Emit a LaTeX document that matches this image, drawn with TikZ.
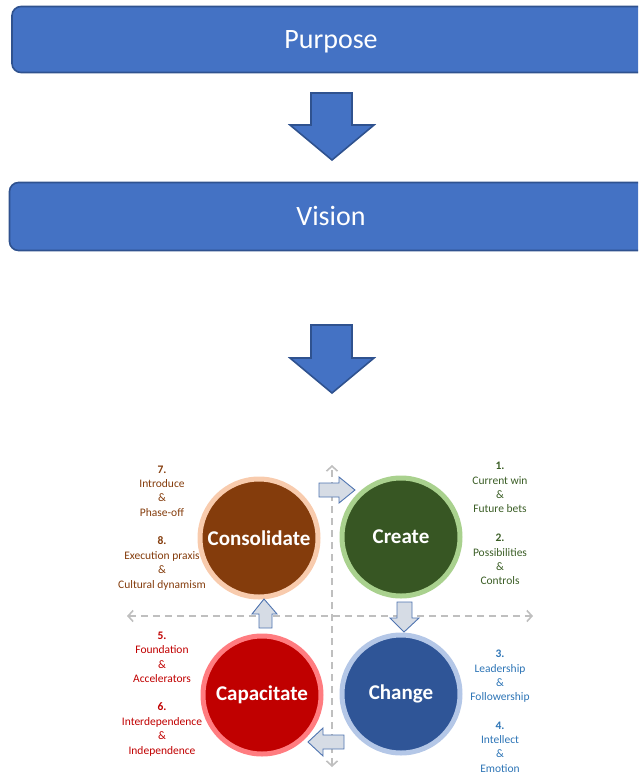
\documentclass[tikz,border=0pt]{standalone}
\usepackage{fontspec}
\setmainfont{Carlito}
\usetikzlibrary{arrows.meta}
\definecolor{boxblue}{HTML}{4472C4}
\definecolor{boxedge}{HTML}{2F528F}
\definecolor{axisgray}{HTML}{BFBFBF}
\definecolor{smallfill}{HTML}{D6DCE5}
\definecolor{smalledge}{HTML}{4F74B0}
\definecolor{conFill}{HTML}{843C0C}
\definecolor{conRing}{HTML}{F8CBAD}
\definecolor{creFill}{HTML}{375623}
\definecolor{creRing}{HTML}{A9D18E}
\definecolor{capFill}{HTML}{C00000}
\definecolor{capRing}{HTML}{FF7C80}
\definecolor{chaFill}{HTML}{2F5597}
\definecolor{chaRing}{HTML}{B4C7E7}
\definecolor{conText}{HTML}{843C0C}
\definecolor{creText}{HTML}{3B5E26}
\definecolor{capText}{HTML}{C00000}
\definecolor{chaText}{HTML}{2E75B6}
\tikzset{
  bigbox/.style={draw=boxedge, fill=boxblue, line width=1.6pt, rounded corners=9pt,
    text=white, font=\fontsize{28}{32}\selectfont, inner sep=0pt,
    text height=18pt, text depth=0pt},
  bigarrow/.style={draw=boxedge, fill=boxblue, line width=1.6pt, line join=miter},
  smallarrow/.style={draw=smalledge, fill=smallfill, line width=0.9pt, line join=miter},
  axisline/.style={draw=axisgray, line width=1.8pt, dash pattern=on 7pt off 5pt,
    {Straight Barb[length=5pt,width=11pt,line width=1.6pt]}-{Straight Barb[length=5pt,width=11pt,line width=1.6pt]}},
  phase/.style={circle, line width=5pt, minimum size=118pt, inner sep=0pt,
    text=white, font=\bfseries\fontsize{21}{25}\selectfont},
  lbl/.style={align=center, inner sep=0pt, font=\fontsize{11.5}{14.4}\selectfont}
}
\begin{document}
\begin{tikzpicture}[x=1pt,y=-1pt]
\useasboundingbox (0,0) rectangle (638,774);
\clip (0,0) rectangle (638,774);

% top boxes
\node[bigbox, minimum width=638pt, minimum height=66pt] (purpose) at (331,39.5) {Purpose};
\node[bigbox, minimum width=643pt, minimum height=68pt] (vision) at (331,216.5) {Vision};

% big down arrows
\draw[bigarrow] (311,93) -- (352,93) -- (352,125) -- (374,125) -- (332,160) -- (290,125) -- (311,125) -- cycle;
\draw[bigarrow] (311,325) -- (352,325) -- (352,358) -- (374,358) -- (332,393) -- (290,358) -- (311,358) -- cycle;

% axes
\coordinate (vtop) at (332,465);
\coordinate (vbot) at (332,767);
\coordinate (hleft) at (127,616);
\coordinate (hright) at (533,616);
\draw[axisline] (vbot) -- (vtop);
\draw[axisline] (hleft) -- (hright);

% circles
\node[phase, draw=conRing, fill=conFill] (consolidate) at (259,538) {Consolidate};
\node[phase, draw=creRing, fill=creFill] (create) at (401,537) {Create};
\node[phase, draw=capRing, fill=capFill] (capacitate) at (262,695) {Capacitate};
\node[phase, draw=chaRing, fill=chaFill] (change) at (401,694) {Change};

% small block arrows
\draw[smallarrow] (319,483) -- (339,483) -- (339,477) -- (355,490) -- (339,503) -- (339,497) -- (319,497) -- cycle;
\draw[smallarrow] (397,602) -- (412,602) -- (412,618) -- (419,618) -- (404,632) -- (390,618) -- (397,618) -- cycle;
\draw[smallarrow] (344,735) -- (344,749) -- (323,749) -- (323,756) -- (308,742) -- (323,728) -- (323,735) -- cycle;
\draw[smallarrow] (259,628) -- (259,614) -- (252,614) -- (264,599) -- (277,614) -- (272,614) -- (272,628) -- cycle;

% labels
\node[lbl, text=conText] (l7) at (162,491) {\textbf{7.}\\Introduce\\\&\\Phase-off};
\node[lbl, text=conText] (l8) at (162,563.5) {\textbf{8.}\\Execution praxis\\\&\\Cultural dynamism};
\node[lbl, text=creText] (l1) at (500,487.5) {\textbf{1.}\\Current win\\\&\\Future bets};
\node[lbl, text=creText] (l2) at (500,559.5) {\textbf{2.}\\Possibilities\\\&\\Controls};
\node[lbl, text=capText] (l5) at (162,657.5) {\textbf{5.}\\Foundation\\\&\\Accelerators};
\node[lbl, text=capText] (l6) at (162,729.5) {\textbf{6.}\\Interdependence\\\&\\Independence};
\node[lbl, text=chaText] (l3) at (500,676.5) {\textbf{3.}\\Leadership\\\&\\Followership};
\node[lbl, text=chaText] (l4) at (500,747) {\textbf{4.}\\Intellect\\\&\\Emotion};
\end{tikzpicture}
\end{document}
